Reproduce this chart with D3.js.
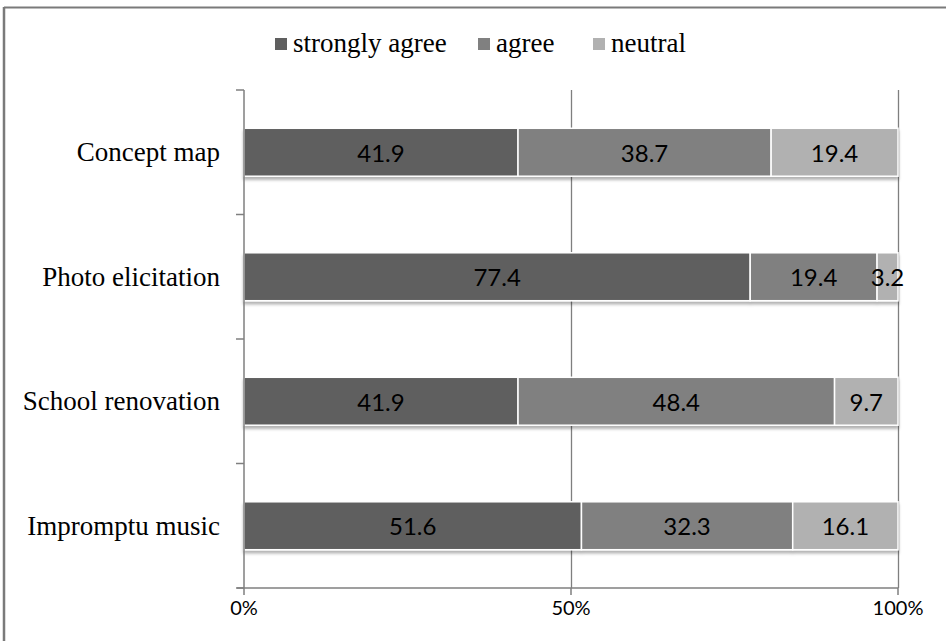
<!DOCTYPE html>
<html><head><meta charset="utf-8">
<script src="https://cdn.jsdelivr.net/npm/d3@7"></script>
<style>body{margin:0;background:#fff}svg{display:block}
.serif{font-family:"Liberation Serif","Times New Roman",serif}
.sans{font-family:Lato,"Open Sans",sans-serif}</style>
</head><body>
<svg id="c" width="946" height="641"></svg>
<script>
const categories = ["Concept map","Photo elicitation","School renovation","Impromptu music"];
const seriesNames = ["strongly agree","agree","neutral"];
const stronglyAgree = [41.9, 77.4, 41.9, 51.6];
const agree = [38.7, 19.4, 48.4, 32.3];
const neutral = [19.4, 3.2, 9.7, 16.1];
const xTicks = [0, 50, 100];
const colors = ["#5f5f5f", "#808080", "#b1b1b1"];

const svg = d3.select("#c");
const defs = svg.append("defs");
const f = defs.append("filter").attr("id","sh").attr("x","-5%").attr("y","-20%").attr("width","110%").attr("height","160%");
f.append("feDropShadow").attr("dx",0).attr("dy",3).attr("stdDeviation",1.6).attr("flood-color","#000").attr("flood-opacity",0.3);

// frame
svg.append("line").attr("x1",4).attr("x2",946).attr("y1",7.5).attr("y2",7.5).attr("stroke","#7a7a7a").attr("stroke-width",2);
svg.append("line").attr("x1",4).attr("x2",4).attr("y1",7).attr("y2",641).attr("stroke","#7a7a7a").attr("stroke-width",2.5);

const x = d3.scaleLinear().domain([0,100]).range([244,898]);
const y = d3.scaleBand().domain(categories).range([90,588]).paddingInner(0.615).paddingOuter(0.3075);
const yOuter = d3.scaleBand().domain(categories).range([90,588]);

const series = [stronglyAgree, agree, neutral];
const rows = categories.map((c,i)=>{ const o={cat:c}; seriesNames.forEach((s,j)=>o[s]=series[j][i]); return o; });
const stacked = d3.stack().keys(seriesNames)(rows);

// gridlines
svg.append("g").selectAll("line").data(xTicks.filter(t=>t>0)).join("line")
  .attr("x1",d=>x(d)+0.5).attr("x2",d=>x(d)+0.5).attr("y1",90).attr("y2",588)
  .attr("stroke","#7f7f7f").attr("stroke-width",1.3);

// bars
const barG = svg.append("g").attr("filter","url(#sh)");
stacked.forEach((s,j)=>{
  barG.append("g").selectAll("rect").data(s).join("rect")
    .attr("x",d=>x(d[0])).attr("width",d=>x(d[1])-x(d[0]))
    .attr("y",d=>y(d.data.cat)).attr("height",y.bandwidth())
    .attr("fill",colors[j]).attr("stroke","#fff").attr("stroke-width",1.5);
});
// value labels
stacked.forEach((s,j)=>{
  svg.append("g").selectAll("text").data(s).join("text")
    .attr("class","sans")
    .attr("x",d=>(x(d[0])+x(d[1]))/2).attr("y",d=>y(d.data.cat)+y.bandwidth()/2)
    .attr("text-anchor","middle").attr("dominant-baseline","central")
    .style("font-size","24px")
    .attr("fill","#000").text(d=>(d[1]-d[0]).toFixed(1));
});

// y axis
const yAxis = svg.append("g").attr("transform","translate(244,0)");
yAxis.append("line").attr("x1",0).attr("x2",0).attr("y1",90).attr("y2",588).attr("stroke","#7f7f7f").attr("stroke-width",1.5);
const yTickPos = categories.map(c=>yOuter(c)).concat([588]);
yAxis.selectAll("line.t").data(yTickPos).join("line").attr("class","t")
  .attr("x1",-8).attr("x2",0).attr("y1",d=>d).attr("y2",d=>d).attr("stroke","#7f7f7f").attr("stroke-width",1.5);
svg.append("g").selectAll("text").data(categories).join("text")
  .attr("class","serif")
  .attr("x",220).attr("y",d=>y(d)+y.bandwidth()/2)
  .attr("text-anchor","end").attr("dominant-baseline","central")
  .style("font-size","27px")
  .attr("fill","#000").text(d=>d);

// x axis
const xAxis = svg.append("g").attr("transform","translate(0,588)");
xAxis.append("line").attr("x1",237).attr("x2",898).attr("y1",0).attr("y2",0).attr("stroke","#7f7f7f").attr("stroke-width",1.5);
xAxis.selectAll("line.t").data(xTicks).join("line").attr("class","t")
  .attr("x1",d=>x(d)).attr("x2",d=>x(d)).attr("y1",0).attr("y2",7).attr("stroke","#7f7f7f").attr("stroke-width",1.5);
xAxis.selectAll("text").data(xTicks).join("text")
  .attr("class","sans")
  .attr("x",d=>x(d)).attr("y",19).attr("text-anchor","middle").attr("dominant-baseline","central")
  .style("font-size","20px")
  .attr("fill","#000").text(d=>d+"%");

// legend
const legX = [275, 478, 593];
const leg = svg.append("g");
seriesNames.forEach((s,j)=>{
  leg.append("rect").attr("x",legX[j]).attr("y",38).attr("width",12).attr("height",12).attr("fill",colors[j]);
  leg.append("text").attr("class","serif").attr("x",legX[j]+18).attr("y",52)
    .style("font-size","27px")
    .attr("fill","#000").text(s);
});
</script>
</body></html>
